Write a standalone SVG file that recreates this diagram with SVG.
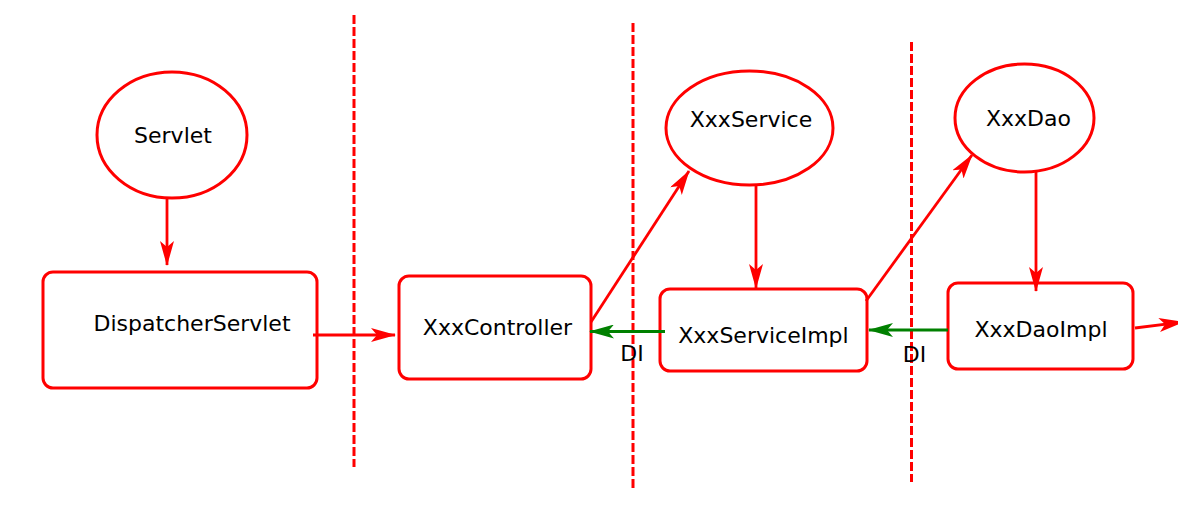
<svg xmlns="http://www.w3.org/2000/svg" width="1178" height="529" viewBox="0 0 1178 529">
<style>
.shape{fill:#fff;stroke:#ff0000;stroke-width:3}
.lbl{font-family:"DejaVu Sans",sans-serif;font-size:22px;fill:#000;text-anchor:middle}
.red{stroke:#ff0000;stroke-width:2.8;fill:none}
.green{stroke:#008000;stroke-width:3;fill:none}
.dash{stroke:#ff0000;stroke-width:3;stroke-dasharray:9 3;fill:none}
</style>
<defs>
<marker id="ar" markerUnits="userSpaceOnUse" viewBox="0 0 25 14" refX="24" refY="7" markerWidth="25" markerHeight="14" orient="auto">
<path d="M0,0 L25,7 L0,14 L6,7 Z" fill="#ff0000"/>
</marker>
<marker id="ag" markerUnits="userSpaceOnUse" viewBox="0 0 25 14" refX="24" refY="7" markerWidth="25" markerHeight="14" orient="auto">
<path d="M0,0 L25,7 L0,14 L6,7 Z" fill="#008000"/>
</marker>
</defs>
<rect width="1178" height="529" fill="#fff"/>
<g id="separators">
<line class="dash" x1="354" y1="15" x2="354" y2="467"/>
<line class="dash" x1="633" y1="23" x2="633" y2="488"/>
<line class="dash" x1="911.5" y1="42" x2="911.5" y2="482"/>
</g>
<g id="node-servlet">
<ellipse class="shape" cx="172" cy="135" rx="75" ry="63"/>
<text class="lbl" x="173" y="143">Servlet</text>
</g>
<g id="node-dispatcherservlet">
<rect class="shape" x="43" y="272" width="274" height="116" rx="10"/>
<text class="lbl" x="192" y="331">DispatcherServlet</text>
</g>
<g id="node-xxxcontroller">
<rect class="shape" x="399" y="276" width="192" height="103" rx="10"/>
<text class="lbl" x="497.5" y="335">XxxController</text>
</g>
<g id="node-xxxservice">
<ellipse class="shape" cx="749.5" cy="128" rx="83.5" ry="57"/>
<text class="lbl" x="751" y="127">XxxService</text>
</g>
<g id="node-xxxserviceimpl">
<rect class="shape" x="660" y="289" width="207" height="82" rx="10"/>
<text class="lbl" x="763.5" y="343">XxxServiceImpl</text>
</g>
<g id="node-xxxdao">
<ellipse class="shape" cx="1024.5" cy="118" rx="69.5" ry="54"/>
<text class="lbl" x="1028.5" y="126">XxxDao</text>
</g>
<g id="node-xxxdaoimpl">
<rect class="shape" x="948" y="283" width="185" height="86" rx="10"/>
<text class="lbl" x="1041" y="337">XxxDaoImpl</text>
</g>
<g id="connectors">
<line class="red" x1="167" y1="198" x2="167" y2="265" marker-end="url(#ar)"/>
<line class="red" x1="313" y1="335" x2="395" y2="335" marker-end="url(#ar)"/>
<line class="red" x1="591" y1="322" x2="689" y2="171" marker-end="url(#ar)"/>
<line class="red" x1="756" y1="184" x2="756" y2="288" marker-end="url(#ar)"/>
<line class="red" x1="866" y1="301" x2="972" y2="155" marker-end="url(#ar)"/>
<line class="red" x1="1036" y1="172" x2="1036" y2="291" marker-end="url(#ar)"/>
<line class="red" x1="1135" y1="328" x2="1183" y2="322" marker-end="url(#ar)"/>
<line class="green" x1="665" y1="331.5" x2="590" y2="331.5" marker-end="url(#ag)"/>
<line class="green" x1="948" y1="330" x2="869" y2="330" marker-end="url(#ag)"/>
<text class="lbl" x="632" y="361">DI</text>
<text class="lbl" x="914.5" y="362">DI</text>
</g>
</svg>
